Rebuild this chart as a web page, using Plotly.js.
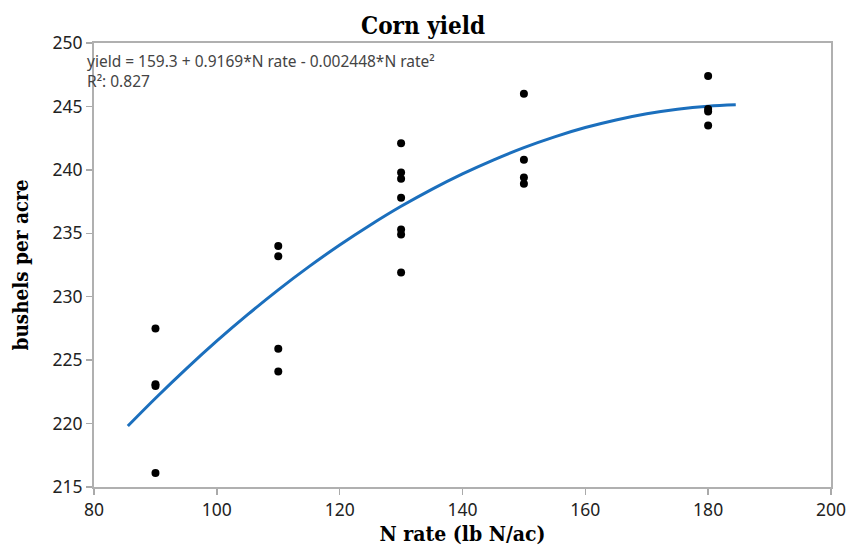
<!DOCTYPE html>
<html><head><meta charset="utf-8">
<script src="https://cdn.plot.ly/plotly-3.0.1.min.js"></script>
<style>
html,body{margin:0;padding:0;background:#fff}
.gtitle, .xtitle, .ytitle { font-stretch: condensed !important; }
</style>
</head><body>
<div id="chart" style="width:846px;height:546px"></div>
<script>
// Observed data points (N rate, yield)
const nRate = [90,90,90,90, 110,110,110,110, 130,130,130,130,130,130,130, 150,150,150,150, 180,180,180,180];
const yieldObs = [227.5,223.1,222.95,216.1, 234.0,233.2,225.9,224.1, 242.1,239.8,239.3,237.8,235.3,234.9,231.9, 246.0,240.8,239.4,238.9, 247.4,244.8,244.6,243.5];
// Fitted curve as drawn
const fitX = [85.5,90,95,100,105,110,115,120,125,130,135,140,145,150,155,160,165,170,175,180,184.5];
const fitY = [219.80,221.99,224.31,226.51,228.58,230.54,232.37,234.08,235.66,237.13,238.47,239.69,240.78,241.76,242.61,243.34,243.94,244.43,244.79,245.03,245.14];
const xTicks = [80,100,120,140,160,180,200];
const yTicks = [215,220,225,230,235,240,245,250];
const eqText = 'yield = 159.3 + 0.9169*N rate - 0.002448*N rate²';
const r2Text = 'R²: 0.827';

const tickFont = {family:'"Noto Sans","Open Sans",sans-serif', size:17.5, color:'#222'};
const serif = '"DejaVu Serif",serif';

Plotly.newPlot('chart', [
  {x: fitX, y: fitY, mode:'lines', line:{color:'#1b6fbd', width:3, shape:'spline'}, hoverinfo:'skip'},
  {x: nRate, y: yieldObs, mode:'markers', marker:{color:'#000', size:8}}
], {
  width:846, height:546,
  margin:{l:94, r:15, t:43, b:59},
  showlegend:false,
  paper_bgcolor:'#fff', plot_bgcolor:'#fff',
  title:{text:'<b>Corn yield</b>', x:0.5, xref:'container', y:0.953, yanchor:'middle',
         font:{family:serif, size:24, color:'#000'}},
  xaxis:{range:[79.99,200.01], tickvals:xTicks, ticks:'outside', ticklen:6, tickcolor:'#aaa', tickwidth:1.5,
         showline:true, linecolor:'#b0b0b0', linewidth:2, mirror:true, showgrid:false, zeroline:false,
         tickfont:tickFont, ticklabeloverflow:'allow',
         title:{text:'<b>N rate (lb N/ac)</b>', font:{family:serif, size:21, color:'#000'}, standoff:7}},
  yaxis:{range:[214.99,250.01], tickvals:yTicks, ticks:'outside', ticklen:6, tickcolor:'#aaa', tickwidth:1.5,
         showline:true, linecolor:'#b0b0b0', linewidth:2, mirror:true, showgrid:false, zeroline:false,
         tickfont:tickFont,
         title:{text:'<b>bushels per acre</b>', font:{family:serif, size:20.5, color:'#000'}, standoff:18}},
  annotations:[{
    xref:'paper', yref:'paper', x:0, y:1, xanchor:'left', yanchor:'top', xshift:-9, yshift:-5,
    align:'left', showarrow:false,
    text: eqText + '<br>' + r2Text,
    font:{family:'"Noto Sans","Open Sans",sans-serif', size:15.5, color:'#444'}
  }]
}, {displayModeBar:false, staticPlot:true});
</script>
</body></html>
